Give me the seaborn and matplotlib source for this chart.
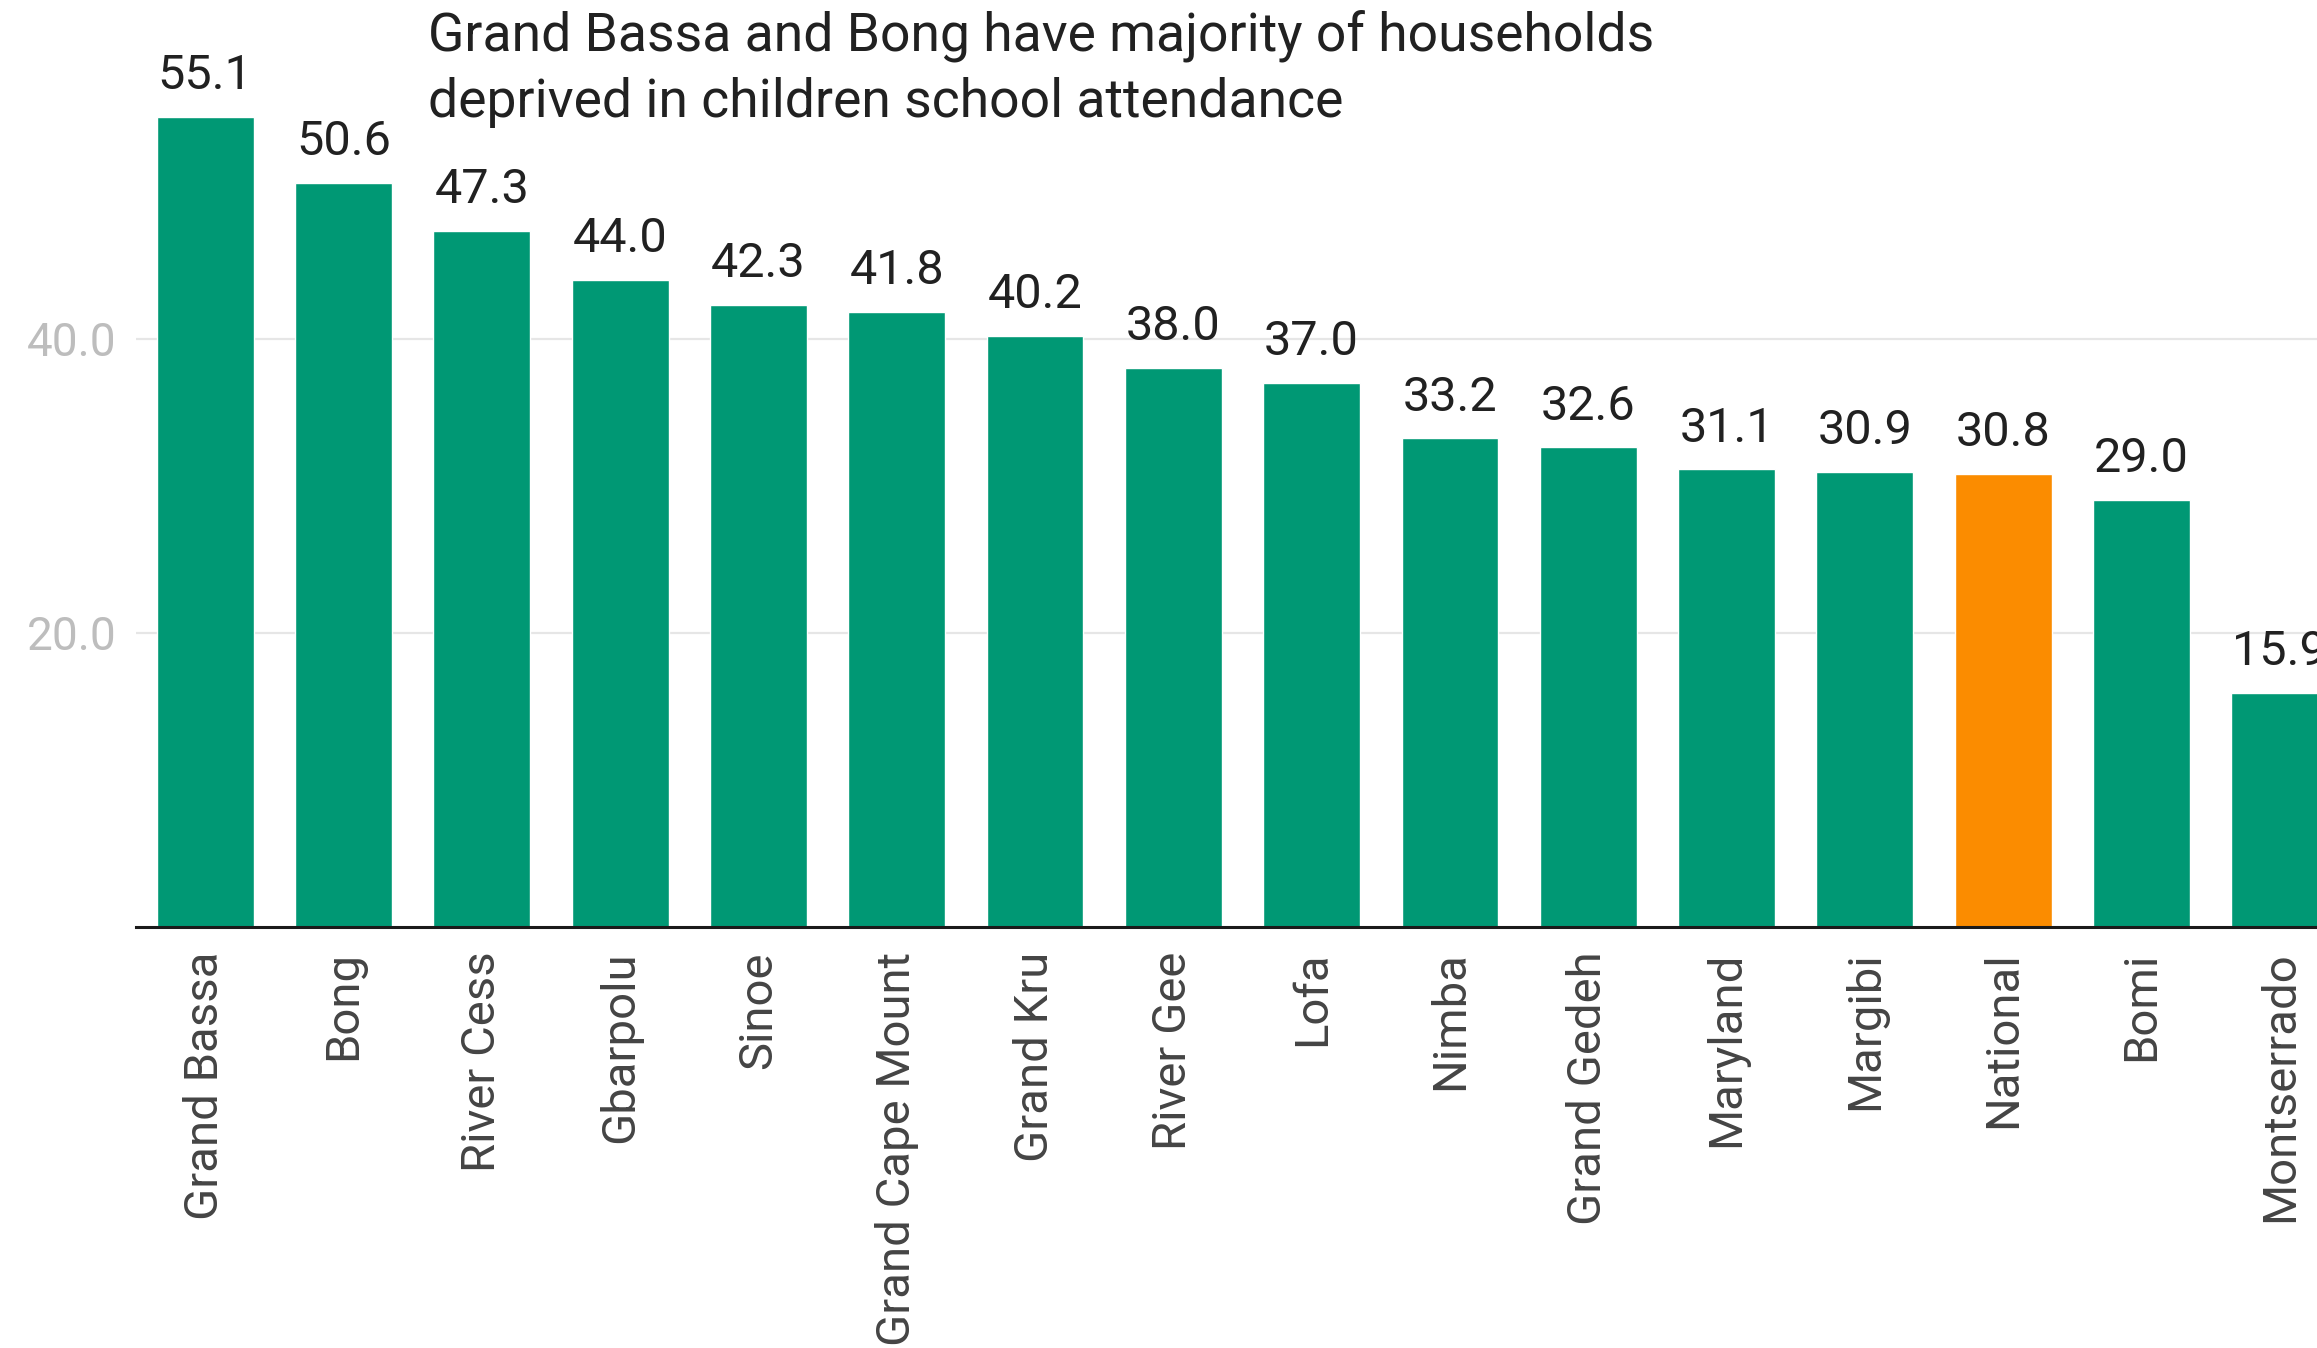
import matplotlib
matplotlib.use("Agg")
import matplotlib.pyplot as plt
import seaborn as sns
import pandas as pd

# County-level share of households deprived in children's school attendance (%)
counties = [
    "Grand Bassa", "Bong", "River Cess", "Gbarpolu", "Sinoe",
    "Grand Cape Mount", "Grand Kru", "River Gee", "Lofa", "Nimba",
    "Grand Gedeh", "Maryland", "Margibi", "National", "Bomi", "Montserrado",
]
deprivation = [
    55.1, 50.6, 47.3, 44.0, 42.3,
    41.8, 40.2, 38.0, 37.0, 33.2,
    32.6, 31.1, 30.9, 30.8, 29.0, 15.9,
]
y_ticks = [20.0, 40.0]
title_lines = [
    "Grand Bassa and Bong have majority of households",
    "deprived in children school attendance",
]

GREEN = "#009874"
ORANGE = "#fb8c00"
palette = {c: (ORANGE if c == "National" else GREEN) for c in counties}

df = pd.DataFrame({"county": counties, "value": deprivation})

sns.set_theme(style="white")
plt.rcParams["font.family"] = ["Roboto", "DejaVu Sans"]

W, H = 2317, 1348
fig = plt.figure(figsize=(W / 100, H / 100), dpi=100)

# axes run slightly past the right edge of the canvas
left_px, base_px = 136, 926.5
unit_px = 14.70          # pixels per percentage point
slot_px = 93.6 * 1.4777  # pixels per category
ymax = 62
ax = fig.add_axes([
    left_px / W,
    (H - base_px) / H,
    16 * slot_px / W,
    ymax * unit_px / H,
])

sns.barplot(
    data=df, x="county", y="value", hue="county", palette=palette,
    order=counties, hue_order=counties, width=0.7, saturation=1,
    legend=False, ax=ax, zorder=3,
)

ax.set_xlim(-0.5, 15.5)
ax.set_ylim(0, ymax)
ax.set_xlabel("")
ax.set_ylabel("")

ax.set_yticks(y_ticks)
ax.set_yticklabels([f"{t:.1f}" for t in y_ticks], color="#bdbdbd", fontsize=33)
ax.yaxis.grid(True, color="#e6e6e6", linewidth=1.6, zorder=0)
ax.set_axisbelow(True)

ax.tick_params(axis="y", length=0, pad=14)
ax.tick_params(axis="x", length=0, pad=18, labelsize=34, labelcolor="#444444")
for lbl in ax.get_xticklabels():
    lbl.set_rotation(90)
    lbl.set_va("top")
    lbl.set_ha("center")

for s in ["top", "right", "left"]:
    ax.spines[s].set_visible(False)
ax.spines["bottom"].set_color("#1a1a1a")
ax.spines["bottom"].set_linewidth(2.2)
ax.spines["bottom"].set_zorder(4)

for i, v in enumerate(deprivation):
    ax.annotate(
        f"{v:.1f}", xy=(i, v), xytext=(0, 20), textcoords="offset points",
        ha="center", va="baseline", fontsize=35, color="#212121",
        annotation_clip=False,
    )

fig.text(
    428 / W, 1 - 9 / H, "\n".join(title_lines),
    ha="left", va="top", fontsize=38.5, color="#212121", linespacing=1.4,
)

fig.savefig("out.png", dpi=100, facecolor="white")
